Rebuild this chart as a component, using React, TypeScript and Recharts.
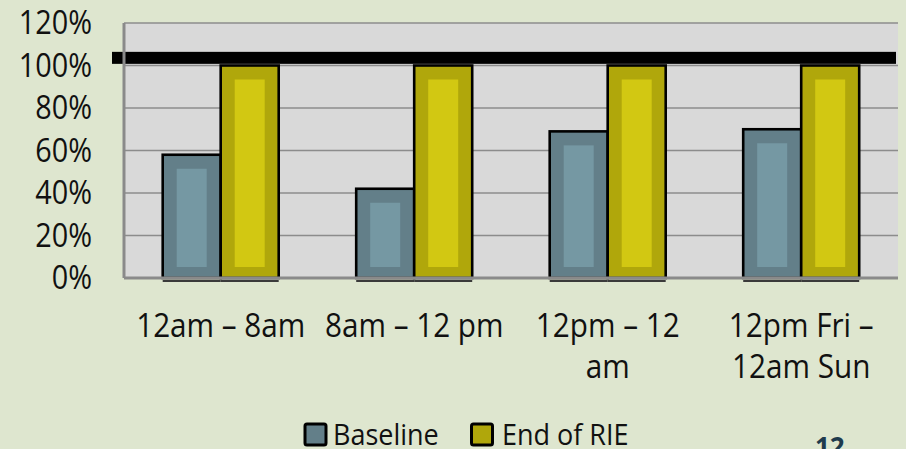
import React from "react";
import { BarChart, Bar, XAxis, YAxis, CartesianGrid, ReferenceLine, Legend } from "recharts";

// ---- data ----
const categoryLines: string[][] = [
  ["12am – 8am"],
  ["8am – 12 pm"],
  ["12pm – 12", "am"],
  ["12pm Fri –", "12am Sun"],
];
const categories = categoryLines.map((l) => l.join(" "));
const baselineValues = [0.58, 0.42, 0.69, 0.7];
const endOfRIEValues = [1.0, 1.0, 1.0, 1.0];
const yTicks = [0, 0.2, 0.4, 0.6, 0.8, 1.0, 1.2];
const targetLevel = 1.036;
const seriesNames = ["Baseline", "End of RIE"];
const pageNumber = "12";

const outerColors = ["#637f89", "#b0a70b"];
const innerColors = ["#7598a3", "#d2c812"];

const data = categories.map((c, i) => ({
  category: c,
  baseline: baselineValues[i],
  end: endOfRIEValues[i],
}));

const FONT = "'Open Sans', 'Noto Sans', sans-serif";
const SX = 0.9;

const makeShape = (outer: string, inner: string) => (props: any) => {
  const { x, y, width, height } = props;
  if (width == null || height == null || height <= 0) return <g />;
  return (
    <g>
      <line x1={x} x2={x + width} y1={y + height + 3} y2={y + height + 3} stroke="#3a3a3a" strokeWidth={2} />
      <rect x={x} y={y} width={width} height={height} fill={outer} stroke="#000" strokeWidth={2.6} />
      <rect x={x + 14} y={y + 14} width={Math.max(0, width - 28)} height={Math.max(0, height - 25)} fill={inner} />
    </g>
  );
};

const YTick = (p: any) => (
  <g transform={`translate(${p.x},${p.y}) scale(${SX},1)`}>
    <text x={0} y={0} dy="0.357em" textAnchor="end" fontSize={32} fontFamily={FONT} fill="#111">
      {Math.round(p.payload.value * 100)}%
    </text>
  </g>
);

const XTick = (p: any) => {
  const idx = categories.indexOf(p.payload.value);
  const lines = categoryLines[idx] || [String(p.payload.value)];
  return (
    <g transform={`translate(${p.x},${p.y}) scale(${SX},1)`}>
      <text x={0} y={0} textAnchor="middle" fontSize={33} fontFamily={FONT} fill="#111">
        {lines.map((l, i) => (
          <tspan key={i} x={0} y={59 + i * 41}>
            {l}
          </tspan>
        ))}
      </text>
    </g>
  );
};

const LegendContent = () => {
  const items = [
    { sq: 305, tx: 333 },
    { sq: 471.5, tx: 502 },
  ];
  return (
    <svg width={906} height={40} style={{ display: "block", overflow: "visible" }}>
      {items.map((it, i) => (
        <g key={i}>
          <rect x={it.sq} y={12} width={21} height={21} rx={2} fill={outerColors[i]} stroke="#000" strokeWidth={3} />
          <g transform={`translate(${it.tx},33) scale(${SX},1)`}>
            <text x={0} y={0} fontSize={30} fontFamily={FONT} fill="#111">
              {seriesNames[i]}
            </text>
          </g>
        </g>
      ))}
    </svg>
  );
};

export default function App() {
  return (
    <div style={{ position: "relative", width: 906, height: 449, background: "#dee6cf", overflow: "hidden" }}>
      <style>{`body{margin:0}`}</style>
      <BarChart
        width={906}
        height={449}
        data={data}
        margin={{ top: 23, right: 8, left: 0, bottom: 51 }}
        barCategoryGap="20%"
        barGap={0}
      >
        <CartesianGrid vertical={false} stroke="#8c8c8c" strokeWidth={1.5} fill="#d9d9d9" />
        <XAxis
          dataKey="category"
          height={120}
          interval={0}
          tickSize={0}
          tickMargin={0}
          tickLine={false}
          axisLine={{ stroke: "#8a8a8a", strokeWidth: 3 }}
          tick={<XTick />}
        />
        <YAxis
          width={124}
          domain={[0, 1.2]}
          ticks={yTicks}
          interval={0}
          tickSize={0}
          tickMargin={32}
          tickLine={false}
          axisLine={{ stroke: "#8a8a8a", strokeWidth: 3 }}
          tick={<YTick />}
        />
        <Bar dataKey="baseline" name={seriesNames[0]} fill={outerColors[0]} isAnimationActive={false} shape={makeShape(outerColors[0], innerColors[0])} />
        <Bar dataKey="end" name={seriesNames[1]} fill={outerColors[1]} isAnimationActive={false} shape={makeShape(outerColors[1], innerColors[1])} />
        <ReferenceLine
          y={targetLevel}
          shape={(p: any) => (
            <rect x={p.x1 - 12} y={p.y1 - 6} width={p.x2 - p.x1 + 10} height={12} fill="#000" />
          )}
        />
        <Legend
          layout="horizontal"
          verticalAlign="middle"
          align="center"
          wrapperStyle={{ top: 412, left: 0, width: 906, height: 40 }}
          content={<LegendContent />}
        />
      </BarChart>
      <svg width={906} height={449} style={{ position: "absolute", left: 0, top: 0, pointerEvents: "none" }}>
        <text x={815} y={456} fontSize={26} fontWeight="bold" fontFamily={FONT} fill="#1f3b4d">
          {pageNumber}
        </text>
      </svg>
    </div>
  );
}
